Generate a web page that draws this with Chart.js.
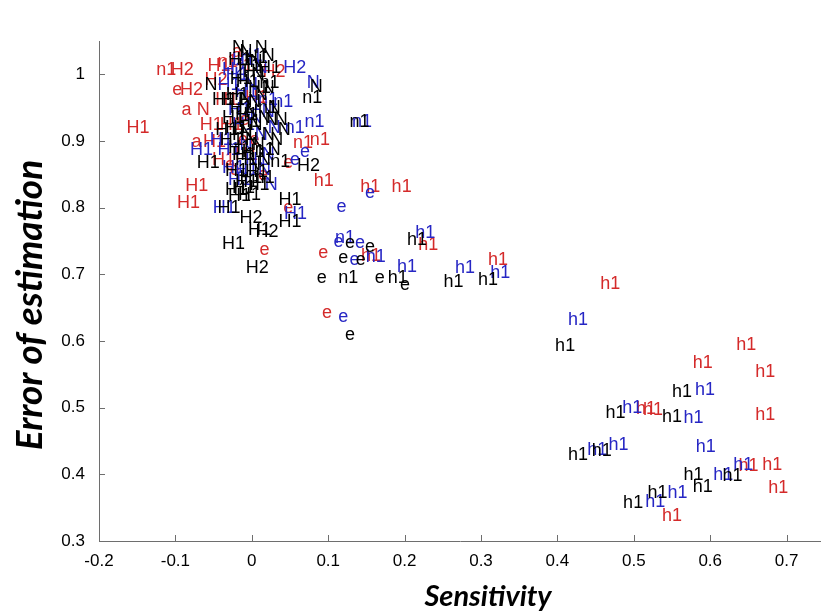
<!DOCTYPE html>
<html>
<head>
	<meta charset="utf-8">
	<title>Error of estimation vs Sensitivity</title>
	<script src="https://cdn.jsdelivr.net/npm/chart.js@4.4.1/dist/chart.umd.min.js"></script>
	<style>
		html, body { margin:0; padding:0; background:#fff; }
		#wrap { width:821px; height:615px; }
	</style>
</head>
<body>
<div id="wrap"><canvas id="errChart"></canvas></div>
<script>
// tick labels
const xTicks = [-0.2, -0.1, 0, 0.1, 0.2, 0.3, 0.4, 0.5, 0.6, 0.7];
const yTicks = [0.3, 0.4, 0.5, 0.6, 0.7, 0.8, 0.9, 1];
const xTitle = "Sensitivity";
const yTitle = "Error of estimation";

// red series (text markers)
const redText = ["H1","n1","H2","e","H2","a","N","H1","a","H1","H1","H1","a","n1","H1","H2","H1","H1","e","e","H2","n1","e","n1","e","e","e","e","H1","H1",
	"h1","h1","h1","e","h1","h1","h1","e","h1","h1","h1","h1","h1","h1","h1","h1","h1","h1","h1","e","H1","H1","e"];
const redX = [-0.164,-0.125,-0.106,-0.104,-0.094,-0.092,-0.072,-0.068,-0.079,-0.064,-0.087,-0.098,-0.026,-0.045,-0.058,-0.062,-0.048,-0.052,-0.035,0.008,0.014,0.076,0.041,0.054,0.010,0.041,-0.016,-0.003,-0.022,-0.042,
	0.081,0.142,0.183,0.087,0.143,0.218,0.309,0.092,0.456,0.634,0.577,0.659,0.503,0.512,0.659,0.637,0.668,0.676,0.537,-0.029,-0.009,-0.029,-0.018];
const redY = [0.919,1.006,1.006,0.976,0.976,0.946,0.946,0.924,0.898,0.898,0.832,0.807,1.033,1.018,1.012,0.991,0.961,0.871,0.864,0.849,1.003,0.901,0.867,0.897,0.736,0.799,0.931,0.901,0.879,0.924,
	0.840,0.831,0.831,0.732,0.727,0.744,0.721,0.642,0.685,0.594,0.567,0.553,0.498,0.496,0.489,0.412,0.414,0.379,0.337,0.856,0.964,1.012,0.901];

// blue series
const blueText = ["H1","H1","H2","N","n1","n1","e","n1","H1","e","H1","H2","N","H1","H1","n1","H1","N","N","n1","H1","N","N","H1","N","H1",
	"e","e","n1","e","e","e","h1","h1","h1","h1","h1","e","h1","h1","h1","h1","h1","h1","h1","h1","h1","h1","h1",
	"H1","H1","N","H1","N","H1","N","H1","H1","N","H1"];
const blueX = [-0.081,-0.051,0.041,0.072,0.028,0.069,0.063,0.131,0.042,0.050,-0.026,-0.039,0.004,-0.045,-0.022,0.008,-0.031,-0.003,0.021,0.043,-0.055,-0.016,0.013,-0.039,0.008,-0.031,
	0.111,0.148,0.109,0.107,0.135,0.128,0.149,0.214,0.190,0.266,0.312,0.113,0.414,0.580,0.485,0.565,0.581,0.439,0.467,0.630,0.604,0.544,0.515,
	-0.016,-0.034,-0.009,-0.018,0.013,-0.026,0.004,-0.009,-0.022,0.017,-0.045];
const blueY = [0.886,0.799,1.010,0.987,0.958,0.928,0.883,0.928,0.790,0.871,1.021,1.006,1.009,0.984,0.973,0.961,0.946,0.934,0.919,0.919,0.901,0.894,0.879,0.859,0.856,0.841,
	0.801,0.822,0.754,0.748,0.747,0.721,0.726,0.762,0.711,0.709,0.702,0.636,0.631,0.526,0.499,0.484,0.441,0.436,0.444,0.414,0.399,0.372,0.358,
	1.028,0.999,0.984,0.954,0.943,0.924,0.909,0.871,0.856,0.834,0.886];

// black series
const blackText = ["n1","n1","N","n1","H1","H1","H2","H1","H2","H1","H2","H1","H1","H2","N",
	"N","H1","H1","N","H1","N","H1","H1","H1","N","N","H1","N","n1","H1","H1","N","N","H1","H1","N","N","H1","H1","n1","H1","N","H1","H1","H1","H1","H1","N","N","N","n1",
	"e","e","e","e","h1","e","n1","e","h1","e","h1","h1","e","h1","h1","h1","h1","h1","h1","h1","h1","h1","h1","h1",
	"N","N","N","H1","H1","H1","N","H1","N","H1","N","H1","N","N","H1","H1","N","H1","H1","n1","H1","H1","n1","N","N"];
const blackX = [0.010,0.066,0.076,0.128,-0.072,-0.045,-0.016,-0.005,0.005,-0.039,-0.008,0.035,0.035,0.059,0.034,
	-0.016,-0.009,-0.018,-0.003,-0.012,0.000,-0.021,-0.005,-0.034,-0.016,0.004,-0.029,-0.009,0.008,-0.039,-0.018,-0.003,0.017,-0.048,-0.026,-0.009,0.013,-0.031,-0.013,0.004,-0.022,-0.005,-0.035,-0.016,-0.026,-0.031,-0.052,-0.062,0.024,0.021,0.004,
	0.122,0.148,0.113,0.136,0.203,0.085,0.113,0.161,0.178,0.194,0.251,0.296,0.122,0.397,0.550,0.463,0.537,0.414,0.445,0.616,0.565,0.577,0.518,0.486,
	-0.026,0.004,0.013,-0.031,0.008,-0.029,0.013,-0.039,-0.005,-0.022,0.008,-0.035,-0.016,0.000,-0.042,-0.026,0.008,-0.009,-0.022,-0.003,-0.035,-0.018,0.024,0.021,0.030];
const blackY = [0.987,0.964,0.981,0.928,0.867,0.799,0.784,0.766,0.763,0.745,0.709,0.811,0.778,0.862,0.916,
	1.033,1.024,1.013,1.018,1.003,0.999,0.988,0.979,0.969,0.961,0.969,0.949,0.943,0.949,0.934,0.928,0.924,0.931,0.916,0.909,0.901,0.909,0.889,0.883,0.886,0.871,0.864,0.855,0.844,0.829,0.817,0.961,0.984,0.901,0.886,0.844,
	0.747,0.741,0.724,0.721,0.751,0.694,0.694,0.694,0.694,0.684,0.688,0.691,0.609,0.592,0.523,0.492,0.486,0.429,0.435,0.397,0.399,0.381,0.372,0.357,
	1.039,1.039,1.028,1.021,1.009,0.993,0.979,0.961,0.958,0.939,0.934,0.919,0.913,0.894,0.901,0.879,0.871,0.853,0.838,0.834,0.826,0.819,0.868,0.949,0.931];

function toPoints(xs, ys) {
	return xs.map((x, i) => ({ x: x, y: ys[i] }));
}

// draws the text of each point where the point is
const textMarkers = {
	id: "textMarkers",
	afterDatasetsDraw(chart) {
		const ctx = chart.ctx;
		ctx.save();
		ctx.font = "18px 'Liberation Sans', Arial, sans-serif";
		ctx.textAlign = "left";
		ctx.textBaseline = "middle";
		chart.data.datasets.forEach((ds, i) => {
			const meta = chart.getDatasetMeta(i);
			ctx.fillStyle = ds.textColor;
			meta.data.forEach((el, j) => {
				ctx.fillText(ds.markerText[j], el.x, el.y);
			});
		});
		ctx.restore();
	}
};

// matlab style ticks pointing into the plot, and the two axis titles
const axisDecor = {
	id: "axisDecor",
	afterDraw(chart) {
		const ctx = chart.ctx;
		const xs = chart.scales.x, ys = chart.scales.y;
		ctx.save();
		ctx.strokeStyle = "#6e6e6e";
		ctx.lineWidth = 1;
		ctx.beginPath();
		xTicks.forEach(v => {
			const px = Math.round(xs.getPixelForValue(v)) + 0.5;
			ctx.moveTo(px, ys.bottom);
			ctx.lineTo(px, ys.bottom - 6);
		});
		yTicks.forEach(v => {
			const py = Math.round(ys.getPixelForValue(v)) + 0.5;
			ctx.moveTo(xs.left, py);
			ctx.lineTo(xs.left + 6, py);
		});
		ctx.stroke();

		ctx.fillStyle = "#000";
		ctx.textAlign = "center";
		ctx.textBaseline = "middle";
		ctx.font = "italic bold 29px Lato, 'Open Sans', sans-serif";
		ctx.fillText(xTitle, 488, 597);
		ctx.translate(30, 305);
		ctx.rotate(-Math.PI / 2);
		ctx.font = "italic bold 37px Lato, 'Open Sans', sans-serif";
		ctx.fillText(yTitle, 0, 0);
		ctx.restore();
	}
};

const tickFont = { family: "'Liberation Sans', Arial, sans-serif", size: 17 };

new Chart(document.getElementById("errChart"), {
	type: "scatter",
	data: {
		datasets: [
			{ data: toPoints(redX, redY), markerText: redText, textColor: "#d42a2a", pointRadius: 0 },
			{ data: toPoints(blueX, blueY), markerText: blueText, textColor: "#2626c4", pointRadius: 0 },
			{ data: toPoints(blackX, blackY), markerText: blackText, textColor: "#000000", pointRadius: 0 }
		]
	},
	options: {
		responsive: true,
		maintainAspectRatio: false,
		animation: false,
		layout: { padding: { top: 41, left: 0, right: 0, bottom: 0 } },
		plugins: { legend: { display: false }, tooltip: { enabled: false } },
		scales: {
			x: {
				type: "linear",
				min: -0.2, max: 0.745,
				afterBuildTicks: s => { s.ticks = xTicks.map(v => ({ value: v })); },
				afterFit: s => { s.height = 74; },
				grid: { display: false },
				border: { display: true, color: "#6e6e6e", width: 1 },
				ticks: { color: "#000", font: tickFont, padding: 2, maxRotation: 0, callback: v => String(Math.round(v * 10) / 10) }
			},
			y: {
				type: "linear",
				min: 0.3, max: 1.05,
				afterBuildTicks: s => { s.ticks = yTicks.map(v => ({ value: v })); },
				afterFit: s => { s.width = 99; },
				grid: { display: false },
				border: { display: true, color: "#6e6e6e", width: 1 },
				ticks: { color: "#000", font: tickFont, padding: 6, callback: v => String(Math.round(v * 10) / 10) }
			}
		}
	},
	plugins: [textMarkers, axisDecor]
});
</script>
</body>
</html>
